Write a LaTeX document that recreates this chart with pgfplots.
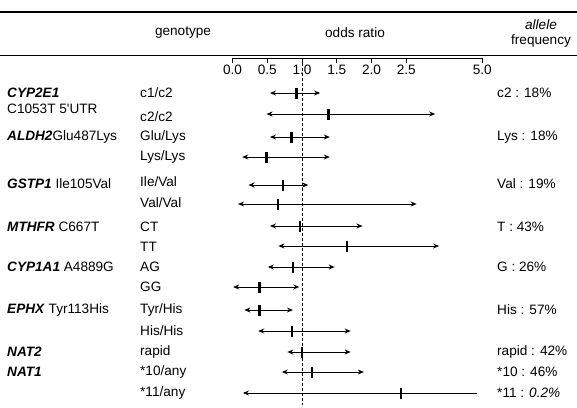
\documentclass[border=0pt]{standalone}
\usepackage{pgfplots}
\pgfplotsset{compat=1.18}
\usepackage{fontspec}
\setmainfont{Liberation Sans}
\usetikzlibrary{arrows.meta}
\pgfplotsset{
  ortrafo/.style={
    x coord trafo/.code={\pgfmathparse{min(##1,2.5)+0.4377*max(##1-2.5,0)}},
  },
  iv/.style={black, line width=0.9pt, mark=none, {Stealth[length=6pt,width=5pt]}-{Stealth[length=6pt,width=5pt]}},
}
\newcommand{\fs}{\fontsize{13.6}{15}\selectfont}
\begin{document}
\begin{tikzpicture}
\useasboundingbox (0,0) rectangle (577pt,407pt);
\begin{axis}[at={(0,0)}, anchor=south west, width=577pt, height=407pt, scale only axis,
  hide axis, clip=false, ortrafo,
  xmin=-3.345, xmax=8.113, ymin=0, ymax=407, y dir=reverse]
% reference line at OR = 1
\addplot[black, densely dashed, line width=0.6pt, mark=none] coordinates {(1,63) (1,405)};
% confidence intervals (lower, upper) for each genotype
\addplot[iv] coordinates {(0.54,93) (1.26,93)};   % c1/c2
\addplot[iv] coordinates {(0.49,114) (3.45,114)}; % c2/c2
\addplot[iv] coordinates {(0.54,137) (1.40,137)}; % Glu/Lys
\addplot[iv] coordinates {(0.14,157) (1.40,157)}; % Lys/Lys
\addplot[iv] coordinates {(0.23,185) (1.09,185)}; % Ile/Val
\addplot[iv] coordinates {(0.08,204) (2.84,204)}; % Val/Val
\addplot[iv] coordinates {(0.54,226) (1.87,226)}; % CT
\addplot[iv] coordinates {(0.66,246) (3.58,246)}; % TT
\addplot[iv] coordinates {(0.51,267) (1.47,267)}; % AG
\addplot[iv] coordinates {(0.01,287) (0.96,287)}; % GG
\addplot[iv] coordinates {(0.17,310) (0.87,310)}; % Tyr/His
\addplot[iv] coordinates {(0.37,331) (1.70,331)}; % His/His
\addplot[iv] coordinates {(0.79,352) (1.70,352)}; % rapid
\addplot[iv] coordinates {(0.71,372) (1.89,372)}; % *10/any
\addplot[black, line width=0.9pt, mark=none, {Stealth[length=6pt,width=5pt]}-] coordinates {(0.15,393) (4.82,393)}; % *11/any
% point estimates
\addplot[only marks, mark=|, mark size=5.5pt, mark options={line width=2.2pt, black}] coordinates {
(0.92,93) (1.38,114) (0.85,137) (0.49,157) (0.73,185) (0.66,204) (0.97,226) (1.65,246)
(0.87,267) (0.39,287) (0.39,310) (0.86,331) (1.00,352) (1.14,372) (2.43,393)};
\end{axis}
% odds-ratio scale
\begin{axis}[at={(232.5pt,349pt)}, anchor=south west, width=249.8pt, height=1pt, scale only axis,
  ortrafo, xmin=0, xmax=5, ymin=0, ymax=1,
  axis x line=bottom, axis y line=none, axis line style={-, line width=0.8pt, black},
  xtick={0,0.5,1,1.5,2,2.5,5}, xticklabels={0.0,0.5,1.0,1.5,2.0,2.5,5.0},
  tick align=outside, major tick length=5pt, tick style={line width=0.8pt, black},
  xticklabel style={font=\fs, inner sep=2pt},
  /pgf/number format/assume math mode=true]
\end{axis}
% rules
\draw[line width=1.3pt] (0,{407pt-12pt}) -- (577pt,{407pt-12pt});
\draw[line width=0.9pt] (0,{407pt-55pt}) -- (577pt,{407pt-55pt});
% headers
\node[font=\fs] at (183pt,{407pt-33pt}) {genotype};
\node[font=\fs] at (355pt,{407pt-33pt}) {odds ratio};
\node[font=\fs\itshape] at (541pt,{407pt-25pt}) {allele};
\node[font=\fs] at (541pt,{407pt-41pt}) {frequency};
% gene names
\begin{scope}[every node/.style={anchor=west, font=\fs, inner sep=0pt}]
\node at (7pt,{407pt-93pt}) {\textbf{\textit{CYP2E1}}};
\node at (7pt,{407pt-109pt}) {C1053T 5\textquotesingle UTR};
\node at (7pt,{407pt-137pt}) {\textbf{\textit{ALDH2}}Glu487Lys};
\node at (7pt,{407pt-184pt}) {\textbf{\textit{GSTP1}} Ile105Val};
\node at (7pt,{407pt-227pt}) {\textbf{\textit{MTHFR}} C667T};
\node at (7pt,{407pt-267pt}) {\textbf{\textit{CYP1A1}} A4889G};
\node at (7pt,{407pt-310pt}) {\textbf{\textit{EPHX}} Tyr113His};
\node at (7pt,{407pt-352pt}) {\textbf{\textit{NAT2}}};
\node at (7pt,{407pt-372pt}) {\textbf{\textit{NAT1}}};
% genotypes
\node at (140pt,{407pt-93pt}) {c1/c2};
\node at (140pt,{407pt-117pt}) {c2/c2};
\node at (140pt,{407pt-137pt}) {Glu/Lys};
\node at (140pt,{407pt-157pt}) {Lys/Lys};
\node at (140pt,{407pt-182pt}) {Ile/Val};
\node at (140pt,{407pt-203pt}) {Val/Val};
\node at (140pt,{407pt-227pt}) {CT};
\node at (140pt,{407pt-247pt}) {TT};
\node at (140pt,{407pt-267pt}) {AG};
\node at (140pt,{407pt-287pt}) {GG};
\node at (140pt,{407pt-310pt}) {Tyr/His};
\node at (140pt,{407pt-331pt}) {His/His};
\node at (140pt,{407pt-352pt}) {rapid};
\node at (140pt,{407pt-372pt}) {*10/any};
\node at (140pt,{407pt-393pt}) {*11/any};
% allele frequencies
\node at (497pt,{407pt-93pt}) {c2 : 18\%};
\node at (497pt,{407pt-137pt}) {Lys : 18\%};
\node at (497pt,{407pt-184pt}) {Val : 19\%};
\node at (497pt,{407pt-227pt}) {T : 43\%};
\node at (497pt,{407pt-267pt}) {G : 26\%};
\node at (497pt,{407pt-310pt}) {His : 57\%};
\node at (497pt,{407pt-352pt}) {rapid : 42\%};
\node at (497pt,{407pt-372pt}) {*10 : 46\%};
\node at (497pt,{407pt-393pt}) {*11 : \textit{0.2\%}};
\end{scope}
\end{tikzpicture}
\end{document}
